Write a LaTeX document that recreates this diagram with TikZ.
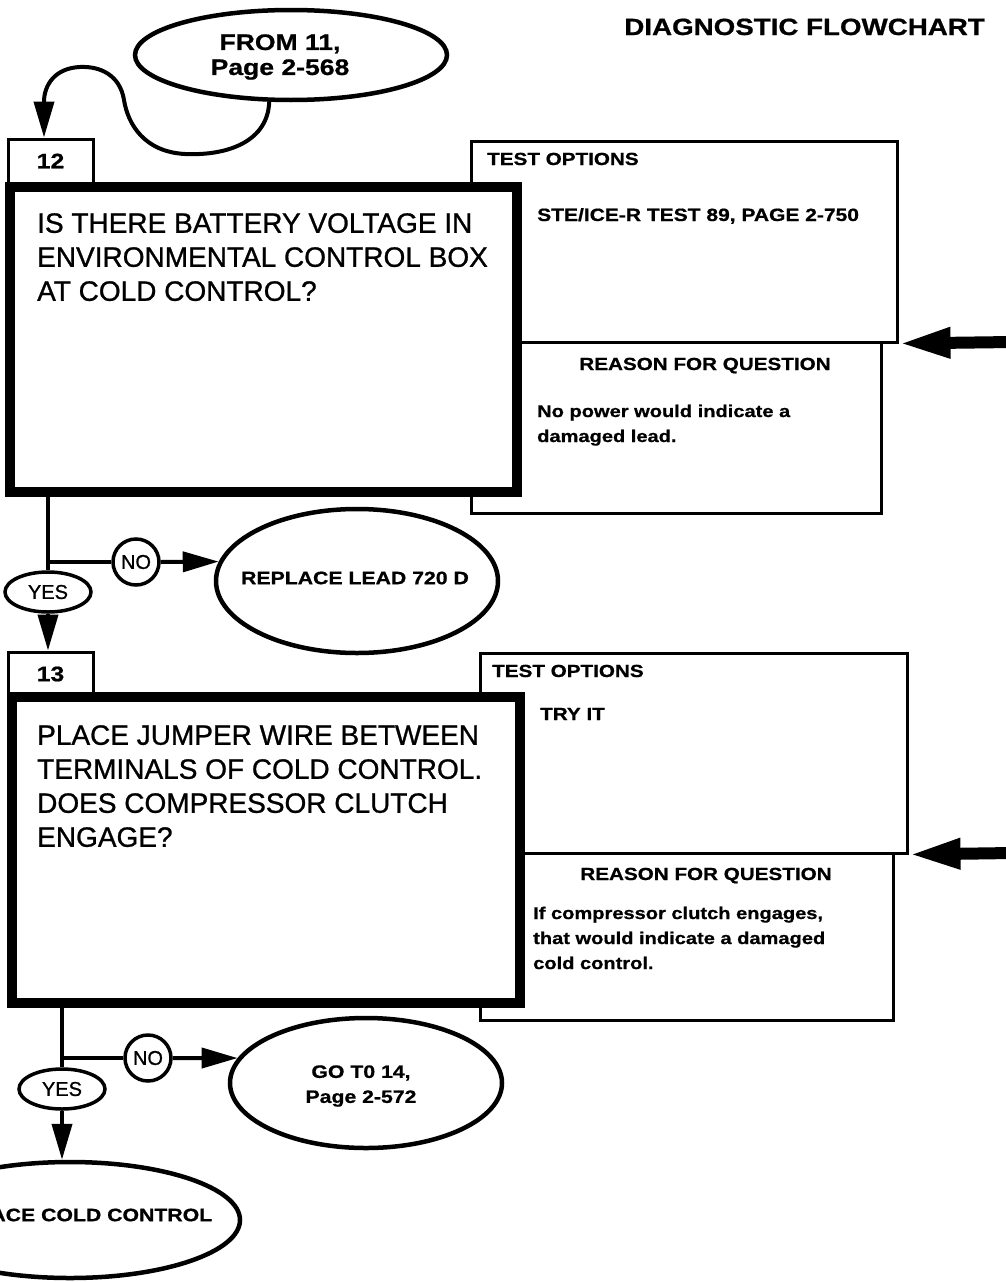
\documentclass[tikz,border=0pt]{standalone}
\usepackage{fontspec}
\setmainfont{Liberation Sans}
\newfontfamily\wbf[FakeStretch=1.18,BoldFeatures={FakeBold=0.8}]{Liberation Sans}
\newfontfamily\qfont[FakeBold=0.9]{Liberation Sans}
\usetikzlibrary{arrows.meta,shapes.geometric,calc}
\begin{document}
\begin{tikzpicture}[x=1pt,y=-1pt,
  conn/.style={line width=4pt},
  arr/.style={line width=4pt,-{Triangle[length=36pt,width=20pt]}},
  bigarr/.style={line width=12pt,-{Triangle[length=52pt,width=28pt]}},
  qbox/.style={draw,line width=10pt,fill=white,rectangle,inner sep=0pt},
  tabbox/.style={draw,line width=3pt,fill=white,rectangle,inner sep=0pt,minimum width=85pt,minimum height=44pt,font=\wbf\bfseries\fontsize{21}{24}\selectfont},
  infobox/.style={draw,line width=3pt,rectangle,inner sep=0pt},
  qtext/.style={anchor=north west,inner sep=0pt,align=left,font=\qfont\fontsize{28}{34}\selectfont},
  lbl/.style={inner sep=0pt,font=\wbf\bfseries\fontsize{17.5}{25}\selectfont},
  body/.style={inner sep=0pt,align=left,anchor=north west,font=\wbf\bfseries\fontsize{17}{25}\selectfont},
  oval/.style={draw,ellipse,line width=4.5pt,inner sep=0pt},
  ovaltext/.style={inner sep=0pt,align=center,font=\wbf\bfseries\fontsize{18}{25}\selectfont},
  yesno/.style={draw,line width=3.5pt,inner sep=0pt,fill=white,font=\qfont\fontsize{20}{24}\selectfont},
]
\useasboundingbox (0,0) rectangle (1006,1282);
\clip (0,0) rectangle (1006,1282);

% title
\node[lbl,anchor=base east,font=\wbf\bfseries\fontsize{23.5}{28}\selectfont] (title) at (985,35) {DIAGNOSTIC FLOWCHART};

% ---------- block 12 ----------
\node[oval,minimum width=312pt,minimum height=90pt] (from11) at (291,55) {};
\node[ovaltext,font=\wbf\bfseries\fontsize{22.5}{25}\selectfont] (from11t) at (280,57) {FROM 11,\\Page 2-568};

\node[infobox,minimum width=426pt,minimum height=201pt] (test12) at (684,241.5) {};
\node[infobox,minimum width=410pt,minimum height=171pt] (reas12) at (676,427.5) {};
\node[tabbox] (tab12) at (50.5,161) {12};
\node[qbox,minimum width=507pt,minimum height=305pt] (q12) at (263.5,339.5) {};
\node[qtext] (q12t) at (37,213) {IS THERE BATTERY VOLTAGE IN\\ENVIRONMENTAL CONTROL BOX\\AT COLD CONTROL?};

\node[lbl,anchor=base west] (to12) at (487,165) {TEST OPTIONS};
\node[lbl,anchor=base west,font=\wbf\bfseries\fontsize{17.8}{25}\selectfont] (to12t) at (537,221) {STE/ICE-R TEST 89, PAGE 2-750};
\node[lbl,anchor=base] (rq12) at (705,370) {REASON FOR QUESTION};
\node[body] (rq12t) at (537,404.5) {No power would indicate a\\damaged lead.};

\draw[conn,-{Triangle[length=36pt,width=20pt]}] (from11.245) .. controls (268,140) and (230,156) .. (185,154)
  .. controls (145,152) and (128,125) .. (124,100)
  .. controls (120,75) and (100,66) .. (80,67)
  .. controls (55,68) and (44,85) .. (44,102) -- ([xshift=-6.5pt]tab12.north);

\coordinate (in12) at (1012,342);
\draw[bigarr] (in12) -- (test12.south east);

\coordinate (j12) at (48,562);
\node[yesno,ellipse,minimum width=86pt,minimum height=40pt] (yes12) at (48,592) {YES};
\node[yesno,circle,minimum size=46pt] (no12) at (136,562) {NO};
\node[oval,minimum width=282pt,minimum height=144pt] (rep12) at (357,581) {};
\node[ovaltext] (rep12t) at (355,578) {REPLACE LEAD 720 D};

\draw[conn] (q12.south -| j12) -- (yes12.north);
\draw[conn] (j12) -- (no12.west);
\draw[arr] (no12.east) -- (rep12.172);

% ---------- block 13 ----------
\node[infobox,minimum width=427pt,minimum height=200pt] (test13) at (693.5,753) {};
\node[infobox,minimum width=413pt,minimum height=167pt] (reas13) at (686.5,936.5) {};
\node[tabbox] (tab13) at (50.5,674) {13};
\node[qbox,minimum width=507.5pt,minimum height=306pt] (q13) at (266,850) {};
\node[qtext] (q13t) at (37,725) {PLACE JUMPER WIRE BETWEEN\\TERMINALS OF COLD CONTROL.\\DOES COMPRESSOR CLUTCH\\ENGAGE?};

\draw[arr] (yes12.south) -- (yes12.south |- tab13.north);

\node[lbl,anchor=base west] (to13) at (492,677) {TEST OPTIONS};
\node[lbl,anchor=base west] (to13t) at (540,720) {TRY IT};
\node[lbl,anchor=base] (rq13) at (706,880) {REASON FOR QUESTION};
\node[body] (rq13t) at (533,906.5) {If compressor clutch engages,\\that would indicate a damaged\\cold control.};

\coordinate (in13) at (1012,853);
\draw[bigarr] (in13) -- (test13.south east);

\coordinate (j13) at (62,1058);
\node[yesno,ellipse,minimum width=86pt,minimum height=40pt] (yes13) at (62,1089) {YES};
\node[yesno,circle,minimum size=46pt] (no13) at (148,1058) {NO};
\node[oval,minimum width=272pt,minimum height=130pt] (go14) at (366,1083) {};
\node[ovaltext] (go14t) at (361,1086) {GO T0 14,\\Page 2-572};
\node[oval,minimum width=340pt,minimum height=116pt] (rcc) at (70,1220) {};
\node[ovaltext] (rcct) at (73,1215) {REPLACE COLD CONTROL};

\draw[conn] (q13.south -| j13) -- (yes13.north);
\draw[conn] (j13) -- (no13.west);
\draw[arr] (no13.east) -- (go14.169);
\draw[arr] (yes13.south) -- (yes13.south |- rcc.north);
\end{tikzpicture}
\end{document}
